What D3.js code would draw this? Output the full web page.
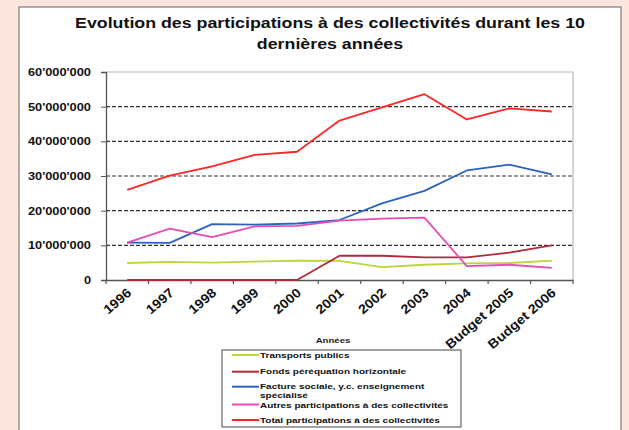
<!DOCTYPE html>
<html>
<head>
<meta charset="utf-8">
<script src="https://cdn.jsdelivr.net/npm/d3@7"></script>
<style>
  body { margin: 0; background: #fce5dc; }
  svg { display: block; font-family: "Liberation Sans", Arial, sans-serif; }
</style>
</head>
<body>
<svg id="chart" width="629" height="430"></svg>
<script>
const categories = ["1996","1997","1998","1999","2000","2001","2002","2003","2004","Budget 2005","Budget 2006"];
const transports = [4.9e6, 5.2e6, 5.0e6, 5.3e6, 5.6e6, 5.5e6, 3.7e6, 4.4e6, 4.8e6, 4.9e6, 5.6e6];
const fonds      = [0, 0, 0, 0, 0, 7.0e6, 7.0e6, 6.5e6, 6.5e6, 7.9e6, 10.0e6];
const facture    = [10.8e6, 10.7e6, 16.1e6, 16.0e6, 16.3e6, 17.3e6, 22.1e6, 25.7e6, 31.6e6, 33.3e6, 30.5e6];
const autres     = [10.8e6, 14.8e6, 12.4e6, 15.5e6, 15.6e6, 17.1e6, 17.7e6, 18.0e6, 4.0e6, 4.4e6, 3.5e6];
const total      = [26.0e6, 30.1e6, 32.8e6, 36.1e6, 37.0e6, 46.0e6, 49.8e6, 53.6e6, 46.3e6, 49.5e6, 48.6e6];
const yTicks = [0, 10e6, 20e6, 30e6, 40e6, 50e6, 60e6];
const seriesNames = ["Transports publics", "Fonds péréquation horizontale", "Facture sociale, y.c. enseignement\nspécialisé", "Autres participations à des collectivités", "Total participations à des collectivités"];
const seriesColors = ["#bdd53a", "#b02a3c", "#2b62c2", "#e64cb6", "#ff2626"];
const titleLines = ["Evolution des participations à des collectivités durant les 10", "dernières années"];
const xTitle = "Années";

const series = [transports, fonds, facture, autres, total];
const svg = d3.select("#chart");

function stretch(sel, k) {
  sel.each(function () {
    const w = this.getComputedTextLength();
    this.setAttribute("textLength", w * k);
    this.setAttribute("lengthAdjust", "spacingAndGlyphs");
  });
}

// white panel
svg.append("rect").attr("x", 19).attr("y", 7).attr("width", 602).attr("height", 440)
  .attr("fill", "#fff").attr("stroke", "#7a7a7a").attr("stroke-width", 1.2);

// title
const tt = svg.append("g").attr("font-weight", "bold").attr("font-size", 14).attr("fill", "#111")
  .attr("text-anchor", "middle");
tt.selectAll("text").data(titleLines).join("text")
  .attr("x", 330).attr("y", (d, i) => 28 + i * 21).text(d => d)
  .call(stretch, 1.27);

const pLeft = 106, pRight = 573, pTop = 72, pBottom = 280;
const x = d3.scaleBand().domain(categories).range([pLeft, pRight]);
const y = d3.scaleLinear().domain([0, 60e6]).range([pBottom, pTop]);

const loc = d3.formatLocale({ decimal: ".", thousands: "'", grouping: [3], currency: ["", ""] });
const fmt = loc.format(",");

// gridlines
svg.append("g").selectAll("line").data(yTicks.filter(t => t > 0 && t < 60e6)).join("line")
  .attr("x1", pLeft).attr("x2", pRight).attr("y1", d => y(d)).attr("y2", d => y(d))
  .attr("stroke", "#333").attr("stroke-width", 1.1).attr("stroke-dasharray", "4,2");

// plot border top/right
svg.append("path").attr("d", `M${pLeft},${pTop}H${pRight}V${pBottom}`)
  .attr("fill", "none").attr("stroke", "#b4bcc4").attr("stroke-width", 1.2);

// y axis
const yAxis = svg.append("g").attr("transform", `translate(${pLeft},0)`)
  .call(d3.axisLeft(y).tickValues(yTicks).tickFormat(fmt).tickSize(5).tickPadding(10));
yAxis.select(".domain").attr("stroke", "#555").attr("stroke-width", 1.3);
yAxis.selectAll(".tick line").attr("stroke", "#555");
yAxis.selectAll("text").attr("font-size", 10.5).attr("font-weight", "bold").attr("fill", "#111")
  .attr("font-family", "Liberation Sans, Arial, sans-serif").call(stretch, 1.22);

// x axis
const xAxis = svg.append("g").attr("transform", `translate(0,${pBottom})`)
  .call(d3.axisBottom(x).tickSize(0).tickFormat(""));
xAxis.select(".domain").attr("stroke", "#555").attr("stroke-width", 1.3);
xAxis.selectAll(".tick").remove();
const bounds = categories.map(c => x(c)).concat([pRight]);
svg.append("g").selectAll("line").data(bounds).join("line")
  .attr("x1", d => d).attr("x2", d => d).attr("y1", pBottom).attr("y2", pBottom + 4)
  .attr("stroke", "#555").attr("stroke-width", 1.2);

svg.append("g").selectAll("text").data(categories).join("text")
  .attr("transform", d => `translate(${x(d) + x.bandwidth() / 2 + 5},294) rotate(-41)`)
  .attr("text-anchor", "end").attr("font-size", 13).attr("font-weight", "bold").attr("fill", "#111")
  .text(d => d).call(stretch, 1.1);

svg.append("text").attr("x", 333).attr("y", 343).attr("text-anchor", "middle")
  .attr("font-size", 8).attr("font-weight", "bold").attr("fill", "#222").text(xTitle).call(stretch, 1.2);

// lines
const line = d3.line().x((d, i) => x(categories[i]) + x.bandwidth() / 2).y(d => y(d));
svg.append("g").selectAll("path").data(series).join("path")
  .attr("d", d => line(d)).attr("fill", "none")
  .attr("stroke", (d, i) => seriesColors[i]).attr("stroke-width", 1.8)
  .attr("stroke-linejoin", "round");

// legend
const lg = svg.append("g");
lg.append("rect").attr("x", 222).attr("y", 350).attr("width", 239).attr("height", 77)
  .attr("fill", "#fff").attr("stroke", "#333").attr("stroke-width", 0.9);
const lineYs = [355, 371.7, 386.7, 404.5, 420];
const textYs = [357.5, 374, 389, 407.5, 422.5];
seriesNames.forEach((name, i) => {
  lg.append("line").attr("x1", 232).attr("x2", 259).attr("y1", lineYs[i]).attr("y2", lineYs[i])
    .attr("stroke", seriesColors[i]).attr("stroke-width", 2);
  name.split("\n").forEach((part, j) => {
    lg.append("text").attr("x", 260).attr("y", textYs[i] + j * 8.5)
      .attr("font-size", 8).attr("font-weight", "bold").attr("fill", "#111")
      .text(part).call(stretch, 1.25);
  });
});
</script>
</body>
</html>
